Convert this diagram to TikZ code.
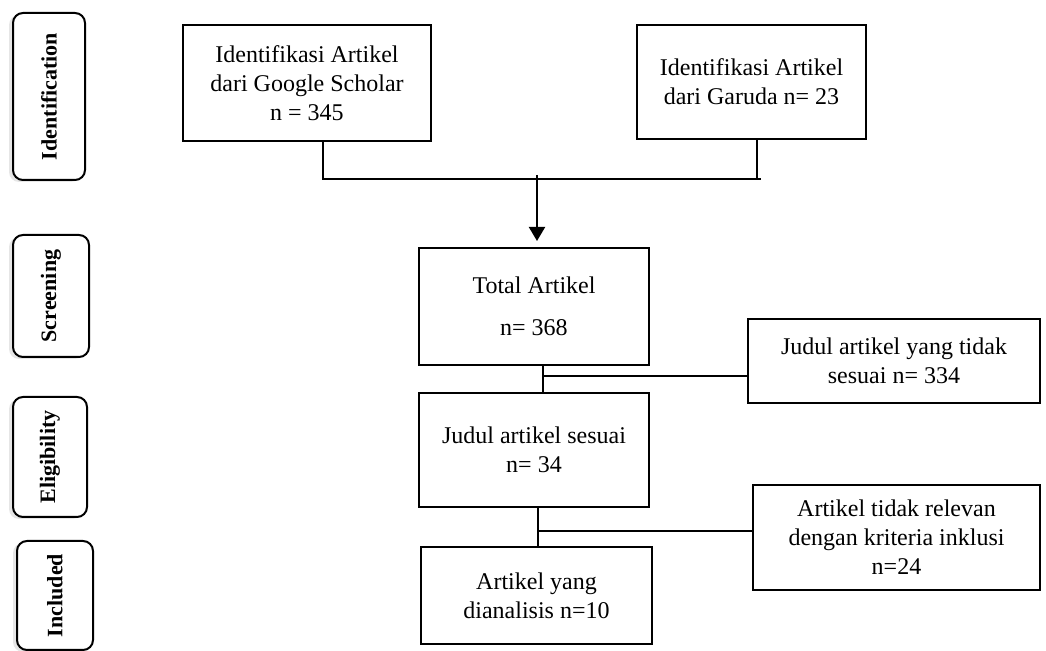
\documentclass[tikz,border=0pt]{standalone}
\usepackage{fontspec}
\setmainfont{Liberation Serif}
\usepackage{tikz}
\usetikzlibrary{shapes.geometric, arrows, arrows.meta, shadows}
\usetikzlibrary{positioning}
\tikzstyle{box} = [rectangle, draw=black, line width=1pt, align=center, inner sep=0pt, font=\fontsize{12}{14.5}\selectfont]
\tikzstyle{stage} = [rectangle, rounded corners=5pt, draw=black, fill=white, line width=1pt, rotate=90, inner sep=0pt, font=\bfseries\fontsize{11}{13}\selectfont, drop shadow={opacity=0.2, shadow xshift=-2pt, shadow yshift=-1pt}]
\tikzstyle{link} = [line width=1pt, -]
\tikzstyle{arrow} = [line width=1pt, ->, >={Triangle[width=8pt,length=7pt]}]

\begin{document}
\begin{tikzpicture}[x=0.5pt, y=-0.5pt]
                                \useasboundingbox (0,0) rectangle (1046,651);
                                % stages
                                \node (I) [stage, minimum width=83.5pt, minimum height=36pt] at (49,96.5) {Identification};
                                \node (S) [stage, minimum width=61pt, minimum height=38pt] at (51,296) {Screening};
                                \node (El) [stage, minimum width=60pt, minimum height=37pt] at (50,457) {Eligibility};
                                \node (In) [stage, minimum width=54.5pt, minimum height=38pt] at (55,595.5) {Included};
                                % boxes
                                \node (A) [box, minimum width=124pt, minimum height=58pt] at (307,83) {Identifikasi Artikel\\ dari Google Scholar\\ n = 345};
                                \node (B) [box, minimum width=114.5pt, minimum height=57pt] at (751.5,82) {Identifikasi Artikel\\ dari Garuda n= 23};
                                \node (C) [box, minimum width=115pt, minimum height=58.5pt] at (534,306.5) {Total Artikel\\[6.5pt] n= 368};
                                \node (D) [box, minimum width=115pt, minimum height=57pt] at (534,450) {Judul artikel sesuai\\ n= 34};
                                \node (E) [box, minimum width=146pt, minimum height=42pt] at (894,361) {Judul artikel yang tidak\\ sesuai n= 334};
                                \node (F) [box, minimum width=115.5pt, minimum height=48.5pt] at (536.5,596) {Artikel yang\\ dianalisis n=10};
                                \node (G) [box, minimum width=143.5pt, minimum height=52.5pt] at (896.5,537.5) {Artikel tidak relevan\\ dengan kriteria inklusi\\ n=24};
                                % joints
                                \coordinate (jA) at (323,179);
                                \coordinate (jB) at (757,179);
                                \coordinate (jT) at (537,175);
                                \coordinate (j1) at (543,376);
                                \coordinate (j2) at (538,531);
                                \draw [link] (A.south -| jA) -- (jA) -- ([xshift=2pt]jB) ;
                                \draw [link] (B.south -| jB) -- (jB);
                                \draw [arrow, shorten >=3pt] (jT) -- (C.north -| jT);
                                \draw [link] (C.south -| j1) -- (D.north -| j1);
                                \draw [link, line width=0.7pt] (j1) -- (E.west |- j1);
                                \draw [link] (D.south -| j2) -- (F.north -| j2);
                                \draw [link, line width=0.7pt] (j2) -- (G.west |- j2);
                            \end{tikzpicture}
\end{document}
